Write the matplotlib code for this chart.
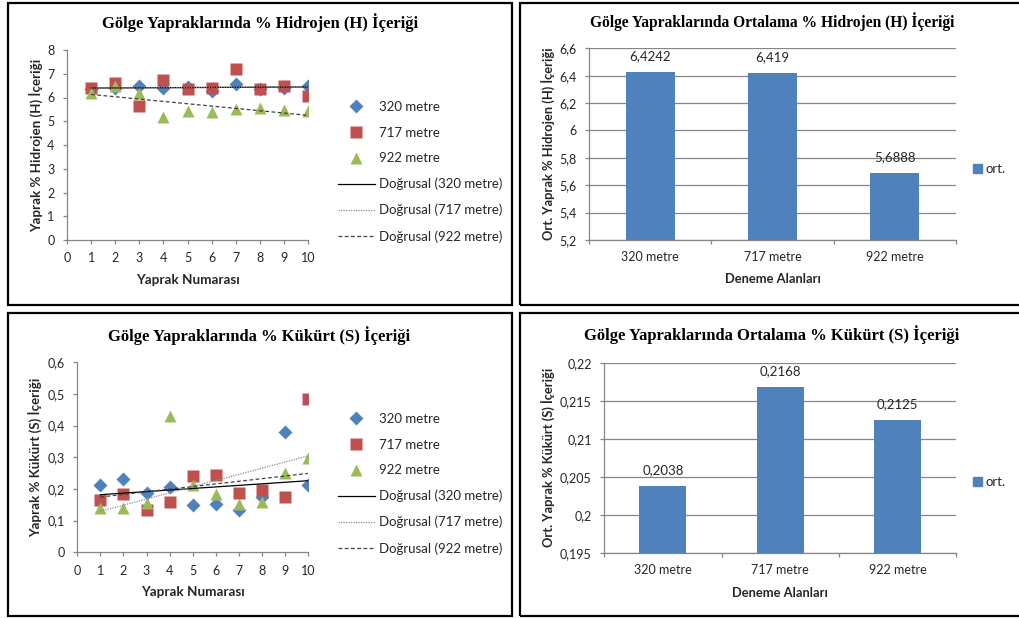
import numpy as np
import matplotlib
matplotlib.use("Agg")
import matplotlib.pyplot as plt
from matplotlib.patches import Rectangle, Patch
from matplotlib.lines import Line2D
from matplotlib.ticker import FuncFormatter

# yaprak numaraları ve ölçümler
yaprak = [1, 2, 3, 4, 5, 6, 7, 8, 9, 10]
seriler = ["320 metre", "717 metre", "922 metre"]

h_320 = [6.36, 6.40, 6.50, 6.40, 6.45, 6.28, 6.55, 6.37, 6.40, 6.50]
h_717 = [6.41, 6.60, 5.64, 6.74, 6.34, 6.41, 7.19, 6.34, 6.48, 6.08]
h_922 = [6.20, 6.50, 6.20, 5.17, 5.43, 5.39, 5.50, 5.57, 5.47, 5.45]

s_320 = [0.211, 0.231, 0.187, 0.205, 0.150, 0.151, 0.135, 0.175, 0.381, 0.214]
s_717 = [0.165, 0.184, 0.134, 0.158, 0.242, 0.244, 0.186, 0.197, 0.176, 0.483]
s_922 = [0.139, 0.139, 0.155, 0.429, 0.212, 0.185, 0.152, 0.160, 0.250, 0.297]

# ortalamalar
ort_h = [6.4242, 6.419, 5.6888]
ort_s = [0.2038, 0.2168, 0.2125]

W, H = 1019, 619
fig = plt.figure(figsize=(W / 100, H / 100), dpi=100)

SANS = ["Lato", "DejaVu Sans"]
SERIF = ["Liberation Serif", "DejaVu Serif"]
TXT = "#262626"
AX = "#868686"

renkler = ["#4F81BD", "#C0504D", "#9BBB59"]
isaretler = [("D", 7.2), ("s", 8), ("^", 9)]
trend_stil = [dict(color="black", ls="-", lw=0.9),
              dict(color="#8c8c8c", ls=(0, (1, 1)), lw=0.9),
              dict(color="#404040", ls=(0, (3, 2)), lw=0.9)]


def px_rect(x0, y0, x1, y1):
    return [x0 / W, 1 - y1 / H, (x1 - x0) / W, (y1 - y0) / H]


def virgul(v, pos):
    return ("%g" % round(v, 4)).replace(".", ",")


def kutu(x0, y0, x1, y1):
    fig.add_artist(Rectangle((x0 / W, 1 - y1 / H), (x1 - x0) / W, (y1 - y0) / H,
                             transform=fig.transFigure, fill=False,
                             ec="black", lw=1.6))


def eksen_stil(ax):
    for s in ["top", "right"]:
        ax.spines[s].set_visible(False)
    for s in ["left", "bottom"]:
        ax.spines[s].set_color(AX)
        ax.spines[s].set_linewidth(0.9)
    ax.tick_params(colors=AX, labelcolor=TXT, length=3, width=0.9, pad=6,
                   labelsize=9)
    for t in ax.get_xticklabels() + ax.get_yticklabels():
        t.set_family(SANS)


def serpme(rect, veri, ylim, yticks, baslik, bx, by, ylabel, ylx, xly, leg_x, leg_y):
    ax = fig.add_axes(rect)
    for i, y in enumerate(veri):
        m, ms = isaretler[i]
        ax.plot(yaprak, y, ls="none", marker=m, ms=ms, color=renkler[i],
                mec="none", zorder=3 + i, label=seriler[i])
    x = np.array(yaprak)
    for i, y in enumerate(veri):
        k = np.polyfit(x, y, 1)
        ax.plot(x, np.polyval(k, x), zorder=7, **trend_stil[i])
    ax.set_xlim(0, 10)
    ax.set_ylim(*ylim)
    ax.set_xticks(range(0, 11))
    ax.set_yticks(yticks)
    ax.yaxis.set_major_formatter(FuncFormatter(virgul))
    eksen_stil(ax)
    ax.set_xlabel("Yaprak Numarası", family=SANS, fontsize=9.7, weight="bold",
                  color=TXT, va="center")
    ax.xaxis.set_label_coords(0.5, xly)
    ax.set_ylabel(ylabel, family=SANS, fontsize=9.6, weight="bold",
                  color=TXT, va="center")
    ax.yaxis.set_label_coords(ylx, 0.5)
    fig.text(bx / W, 1 - by / H, baslik, family=SERIF, weight="bold",
             fontsize=12, ha="center", va="center", color="black")

    h = [Line2D([], [], ls="none", marker=isaretler[i][0], ms=isaretler[i][1],
                color=renkler[i], mec="none") for i in range(3)]
    h += [Line2D([], [], **trend_stil[i]) for i in range(3)]
    lab = seriler + ["Doğrusal (%s)" % s for s in seriler]
    ax.legend(h, lab, loc="upper left", bbox_to_anchor=(leg_x / W, 1 - leg_y / H),
              bbox_transform=fig.transFigure, frameon=False, borderpad=0,
              borderaxespad=0, handlelength=2.8, handletextpad=0.3,
              labelspacing=1.03, prop=dict(family=SANS, size=9.5),
              labelcolor=TXT)
    return ax


def cubuk(rect, degerler, ylim, yticks, baslik, bx, by, bs, ylabel, ylx, xly, leg_y):
    ax = fig.add_axes(rect)
    xs = np.arange(len(seriler)) + 0.5
    cb = ax.bar(xs, degerler, width=0.4, color="#4F81BD", zorder=3,
                label="ort.")
    ax.set_xlim(0, 3)
    ax.set_ylim(*ylim)
    ax.set_yticks(yticks)
    ax.yaxis.set_major_formatter(FuncFormatter(virgul))
    ax.set_xticks([0, 1, 2, 3])
    ax.set_xticklabels([])
    ax.set_xticks(xs, minor=True)
    ax.set_xticklabels(seriler, minor=True)
    ax.tick_params(axis="x", which="minor", length=0)
    ax.grid(axis="y", color=AX, lw=0.9, zorder=0)
    eksen_stil(ax)
    ax.tick_params(axis="x", which="both", pad=8)
    for t in ax.get_xticklabels(minor=True):
        t.set_family(SANS)
        t.set_color(TXT)
        t.set_fontsize(9)
    etiket = [("%g" % v).replace(".", ",") for v in degerler]
    ax.bar_label(cb, etiket, padding=7, family=SANS, fontsize=9.5, color=TXT)
    ax.set_xlabel("Deneme Alanları", family=SANS, fontsize=9.3, weight="bold",
                  color=TXT, va="center")
    ax.xaxis.set_label_coords(0.5, xly)
    ax.set_ylabel(ylabel, family=SANS, fontsize=9.3, weight="bold",
                  color=TXT, va="center")
    ax.yaxis.set_label_coords(ylx, 0.5)
    fig.text(bx / W, 1 - by / H, baslik, family=SERIF, weight="bold",
             fontsize=bs, ha="center", va="center", color="black")
    ax.legend(handles=[Patch(color="#4F81BD")], labels=["ort."],
              loc="center left", bbox_to_anchor=(973 / W, 1 - leg_y / H),
              bbox_transform=fig.transFigure, frameon=False, borderpad=0,
              borderaxespad=0, handlelength=0.7, handleheight=0.7,
              handletextpad=0.25, prop=dict(family=SANS, size=9.5),
              labelcolor=TXT)
    return ax


kutu(8, 3, 512, 305)
kutu(520, 3, 1030, 305)
kutu(8, 313, 512, 616)
kutu(520, 313, 1030, 616)

serpme(px_rect(67, 50, 308, 240), [h_320, h_717, h_922], (0, 8), range(0, 9),
       "Gölge Yapraklarında % Hidrojen (H) İçeriği", 260, 23,
       "Yaprak % Hidrojen (H) İçeriği", -0.129, -0.21, 338, 101)

serpme(px_rect(77.3, 362.3, 308, 552.3), [s_320, s_717, s_922], (0, 0.6),
       np.arange(0, 0.61, 0.1), "Gölge Yapraklarında % Kükürt (S) İçeriği",
       259, 336, "Yaprak % Kükürt (S) İçeriği", -0.183, -0.209, 338, 413)

cubuk(px_rect(589, 48.3, 956, 240), ort_h, (5.2, 6.6), np.arange(5.2, 6.61, 0.2),
      "Gölge Yapraklarında Ortalama % Hidrojen (H) İçeriği", 772, 22, 11.2,
      "Ort. Yaprak % Hidrojen (H) İçeriği", -0.112, -0.203, 169)

cubuk(px_rect(604.3, 362.7, 956, 552.7), ort_s, (0.195, 0.22),
      np.arange(0.195, 0.2201, 0.005),
      "Gölge Yapraklarında Ortalama % Kükürt (S) İçeriği", 772, 335, 12,
      "Ort. Yaprak % Kükürt (S) İçeriği", -0.159, -0.21, 482)

fig.savefig("out.png", dpi=100, facecolor="white")
